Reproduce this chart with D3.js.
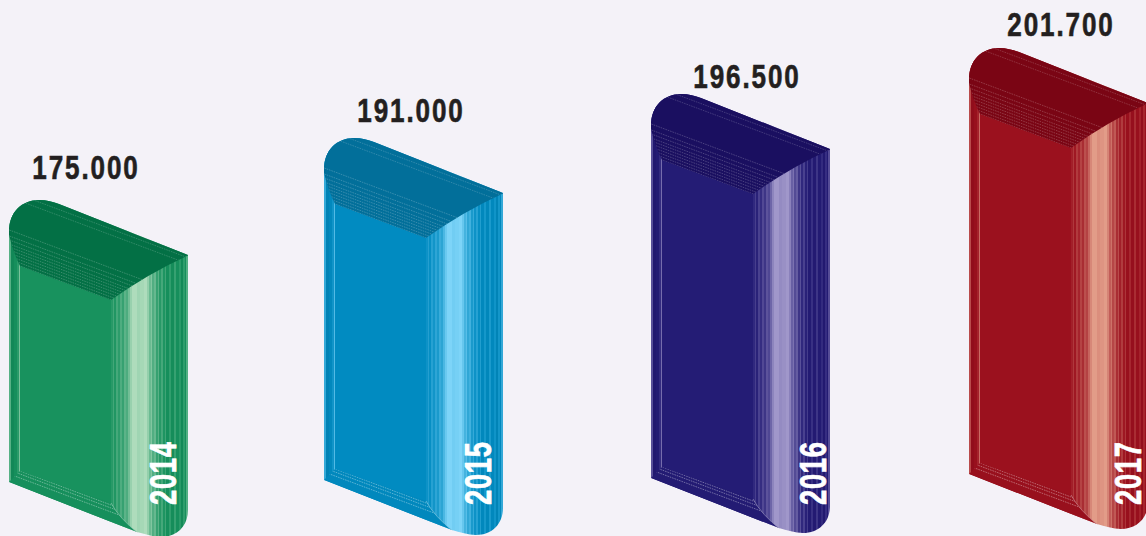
<!DOCTYPE html>
<html>
<head>
<meta charset="utf-8">
<script src="https://cdn.jsdelivr.net/npm/d3@7"></script>
<style>
  html, body { margin: 0; padding: 0; background: #f4f2f8; overflow: hidden; }
  svg { display: block; }
  text { font-family: "Liberation Sans", "Arimo", sans-serif; font-weight: 700; }
</style>
</head>
<body>
<div id="chart"></div>
<script>
// data
const years = ["2014", "2015", "2016", "2017"];
const values = [175000, 191000, 196500, 201700];

// colours per year
const frontColors = ["#18925e", "#018bc1", "#241c75", "#9b111e"];
const topColors = ["#037045", "#026f9a", "#1a0f60", "#7a0514"];
const lightColors = ["#aedcbc", "#7dd4f8", "#a097ca", "#e29c88"];

// the blocks are not proportional to the value, so the scale has one segment per year
const blockLeft = [9, 324, 651, 969];
const blockTop = [200, 138, 94, 48];
const blockBase = [482, 480, 478, 474];
const valueLabelX = [86, 411, 747, 1061];
const valueLabelY = [179, 122, 88, 36];
const yearLabelX = [176, 491, 826, 1141];

// side panel stripes: [start px, how light], below zero goes towards the top colour
const stripes = [
  [0, 0.1], [2, 0.28], [3, 0.05], [5, 0.3], [7, 0.14], [9, 0.36], [11, 0.2], [13, 0.45],
  [15, 0.35], [17, 0.6], [19, 0.85], [21, 1], [26, 0.9], [29, 0.94], [33, 1], [36, 0.82],
  [38, 0.55], [40, 0.7], [41, 0.38], [43, 0.52], [45, 0.2], [47, 0.42], [48, 0.1], [50, 0.3],
  [52, 0.04], [54, 0.26], [55, -0.1], [58, 0.16], [60, -0.15], [63, 0.2], [65, -0.1],
  [68, 0.12], [70, -0.25], [72, 0.15], [74, -0.1], [75, 0.4]
];
const bevelStripes = [[0, 0.42], [2, -0.3], [5, -0.1], [8, 0.12], [10, 0.65]];
const streakOffsets = [0, 3, 6, 9, 12, 15, 18, 22, 26, 32, 65, 71];
const baseStreaks = [3, 7];

const width = 1146, height = 536;
const blockWidth = 179, panelX = 102, bevelX = 11, slope = 34 / 91;

const xScale = d3.scaleOrdinal().domain(years).range(blockLeft);
const yScale = d3.scaleLinear().domain(values).range(blockTop);
const baseScale = d3.scaleOrdinal().domain(years).range(blockBase);
const fmt = d3.formatLocale({ decimal: ",", thousands: ".", grouping: [3], currency: ["", ""] }).format(",");

const svg = d3.select("#chart").append("svg").attr("width", width).attr("height", height);
const defs = svg.append("defs");

function stripeGradient(id, list, total, front, light, top) {
  const g = defs.append("linearGradient").attr("id", id);
  const toLight = d3.interpolateRgb(front, light);
  const toDark = d3.interpolateRgb(front, top);
  const shade = t => (t < 0 ? toDark(-t) : toLight(t));
  list.forEach((s, i) => {
    const end = i + 1 < list.length ? list[i + 1][0] : total;
    g.append("stop").attr("offset", s[0] / total).attr("stop-color", shade(s[1]));
    g.append("stop").attr("offset", end / total).attr("stop-color", shade(s[1]));
  });
}

years.forEach((year, i) => {
  const x0 = xScale(year);
  const yt = yScale(values[i]);
  const yb = baseScale(year);
  const front = frontColors[i], top = topColors[i], light = lightColors[i];
  const streak = d3.interpolateRgb(top, "#ffffff")(0.5);

  stripeGradient("side" + year, stripes, blockWidth - panelX, front, light, top);
  stripeGradient("bevel" + year, bevelStripes, bevelX, front, light, top);

  const outline = `M${x0},${yt + 32} C${x0},${yt + 12} ${x0 + 13},${yt} ${x0 + 30},${yt}
    C${x0 + 38},${yt} ${x0 + 44},${yt + 2} ${x0 + 50},${yt + 4}
    L${x0 + blockWidth},${yt + 55} L${x0 + blockWidth},${yb + 28}
    C${x0 + blockWidth},${yb + 44} ${x0 + 168},${yb + 55} ${x0 + 152},${yb + 55}
    C${x0 + 144},${yb + 55} ${x0 + 136},${yb + 52} ${x0 + 128},${yb + 50}
    L${x0},${yb} Z`;
  const topFace = `M${x0 - 1},${yt - 2} L${x0 + blockWidth + 1},${yt - 2} L${x0 + blockWidth + 1},${yt + 55}
    Q${x0 + 140},${yt + 73} ${x0 + panelX},${yt + 100} L${x0 + bevelX},${yt + 66}
    Q${x0 + 3},${yt + 50} ${x0 - 1},${yt + 30} Z`;
  const baseFace = `M${x0},${yb} L${x0 + bevelX},${yb - 11} L${x0 + panelX},${yb + 21}
    Q${x0 + 110},${yb + 36} ${x0 + 130},${yb + 52} Z`;

  defs.append("clipPath").attr("id", "clip" + year).append("path").attr("d", outline);
  defs.append("clipPath").attr("id", "topclip" + year).append("path").attr("d", topFace);
  defs.append("clipPath").attr("id", "baseclip" + year).append("path").attr("d", baseFace);

  const g = svg.append("g").attr("clip-path", `url(#clip${year})`);

  // front face
  g.append("rect").attr("x", x0).attr("y", yt).attr("width", panelX)
    .attr("height", yb - yt + 60).attr("fill", front);
  // left bevel
  g.append("rect").attr("x", x0).attr("y", yt).attr("width", bevelX)
    .attr("height", yb - yt).attr("fill", `url(#bevel${year})`);
  // side panel
  g.append("rect").attr("x", x0 + panelX).attr("y", yt).attr("width", blockWidth - panelX)
    .attr("height", yb - yt + 60).attr("fill", `url(#side${year})`);

  // top face
  g.append("path").attr("d", topFace).attr("fill", top);
  const topLines = svg.append("g").attr("clip-path", `url(#clip${year})`)
    .append("g").attr("clip-path", `url(#topclip${year})`);
  topLines.selectAll("line").data(streakOffsets).join("line")
    .attr("x1", x0 - 2)
    .attr("x2", x0 + blockWidth + 2)
    .attr("y1", d => yt + 66 - d - (bevelX + 2) * slope)
    .attr("y2", d => yt + 66 - d + (blockWidth + 2 - bevelX) * slope)
    .attr("stroke", streak).attr("stroke-width", 0.6)
    .attr("stroke-dasharray", "1.6 0.9")
    .attr("stroke-opacity", d => (d === 0 ? 1 : d > 40 ? 0.6 : 0.7));

  // bottom bevel
  g.append("path").attr("d", baseFace).attr("fill", d3.interpolateRgb(front, top)(0.1));
  const baseLines = svg.append("g").attr("clip-path", `url(#clip${year})`)
    .append("g").attr("clip-path", `url(#baseclip${year})`);
  baseLines.selectAll("line").data([0].concat(baseStreaks)).join("line")
    .attr("x1", x0)
    .attr("x2", x0 + 130)
    .attr("y1", d => yb - 11 + d - bevelX * slope)
    .attr("y2", d => yb - 11 + d + (130 - bevelX) * slope)
    .attr("stroke", d3.interpolateRgb(front, "#ffffff")(0.5)).attr("stroke-width", 0.7)
    .attr("stroke-dasharray", "1.6 0.9");
  g.append("path")
    .attr("d", `M${x0 + panelX},${yb + 21} Q${x0 + 110},${yb + 36} ${x0 + 130},${yb + 52}`)
    .attr("fill", "none").attr("stroke", d3.interpolateRgb(front, "#ffffff")(0.5)).attr("stroke-width", 0.7);

  // value above the block, squeezed because no condensed font is installed
  svg.append("text")
    .attr("transform", `translate(${valueLabelX[i]},${valueLabelY[i]}) scale(0.79,1)`)
    .attr("text-anchor", "middle")
    .attr("font-size", 33).attr("letter-spacing", 2.4)
    .attr("fill", "#231f20").attr("stroke", "#231f20").attr("stroke-width", 0.6)
    .text(fmt(values[i]));

  // year on the side panel
  svg.append("text")
    .attr("transform", `translate(${yearLabelX[i]},505) rotate(-90) scale(0.74,1)`)
    .attr("font-size", 37).attr("letter-spacing", 0.9)
    .attr("fill", "#ffffff").attr("stroke", "#ffffff").attr("stroke-width", 0.7)
    .text(year);
});
</script>
</body>
</html>
